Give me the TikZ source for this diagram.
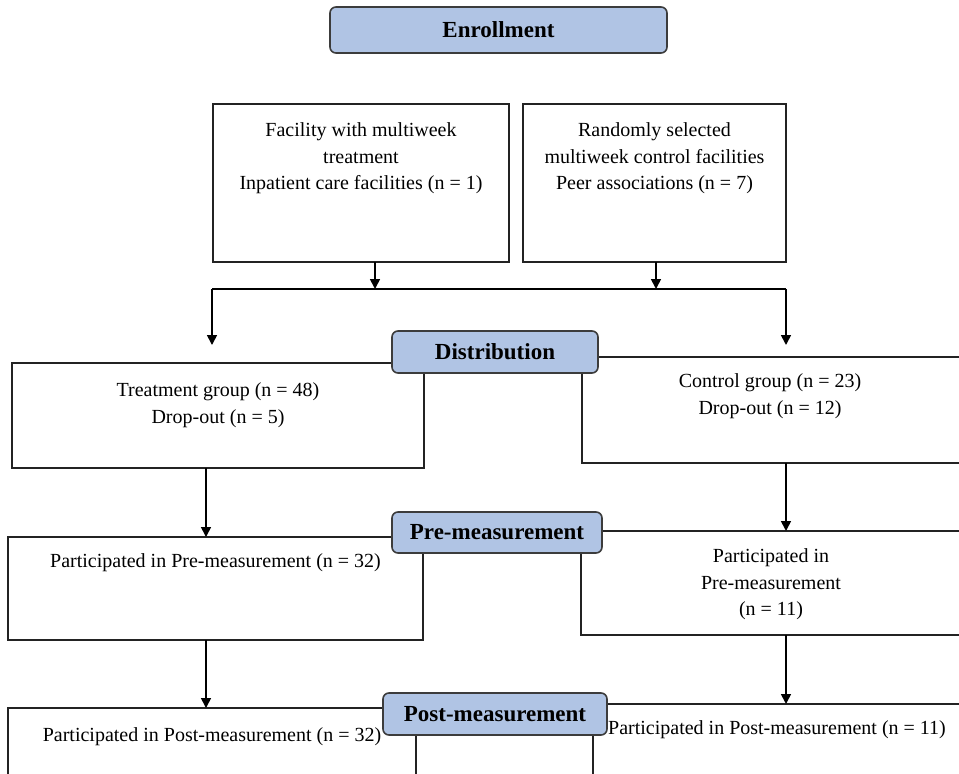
\documentclass[tikz,border=0pt]{standalone}
\usepackage{fontspec}
\setmainfont{Liberation Serif}
\usetikzlibrary{arrows.meta,calc}
\definecolor{headblue}{RGB}{176,196,228}
\definecolor{headedge}{RGB}{60,60,60}
\definecolor{boxedge}{RGB}{35,35,35}
\tikzset{
  wbox/.style={draw=boxedge, line width=1.6pt, fill=white, inner sep=0pt, outer sep=0pt, anchor=north west},
  hbox/.style={draw=headedge, line width=1.6pt, fill=headblue, rounded corners=6pt, inner sep=0pt, outer sep=0pt,
     font=\fontsize{23}{28}\selectfont\bfseries, anchor=north west},
  txt/.style={inner sep=0pt, align=center, anchor=north, font=\fontsize{20}{26.5}\selectfont},
  arr/.style={draw=black, line width=1.7pt, -{Triangle[length=10pt,width=10pt]}},
  ln/.style={draw=black, line width=1.7pt},
}
\begin{document}
\begin{tikzpicture}[x=1pt,y=-1pt]
\useasboundingbox (0,0) rectangle (959,774);
\clip (0,0) rectangle (959,774);
% coordinates for columns and junction
\coordinate (hl) at (212,289);
\coordinate (hr) at (786,289);
\coordinate (lc) at (206,0);
\coordinate (rc) at (786,0);
\coordinate (ax) at (375,0);
\coordinate (bx) at (656,0);
\coordinate (tk1) at (450,289);
\coordinate (tk2) at (549,289);

% top boxes
\node[wbox, minimum width=296pt, minimum height=158pt] (A) at (213,104) {};
\node[txt] (At) at ([yshift=-14pt]A.north) {\strut Facility with multiweek\\treatment\\Inpatient care facilities (n = 1)};
\node[wbox, minimum width=263pt, minimum height=158pt] (B) at (523,104) {};
\node[txt] (Bt) at ([yshift=-14pt]B.north) {\strut Randomly selected\\multiweek control facilities\\Peer associations (n = 7)};

% group boxes
\node[wbox, minimum width=412pt, minimum height=105pt] (C) at (12,363) {};
\node[txt] (Ct) at ([yshift=-15pt]C.north) {\strut Treatment group (n = 48)\\Drop-out (n = 5)};
\node[wbox, minimum width=390pt, minimum height=106pt] (D) at (582,357) {};
\node[txt] (Dt) at (770,369) {\strut Control group (n = 23)\\Drop-out (n = 12)};

% pre-measurement boxes
\node[wbox, minimum width=415pt, minimum height=103pt] (E) at (8,537) {};
\node[txt] (Et) at ([yshift=-12pt]E.north) {\strut Participated in Pre-measurement (n = 32)};
\node[wbox, minimum width=390pt, minimum height=104pt] (F) at (581,531) {};
\node[txt] (Ft) at (771,544) {\strut Participated in\\Pre-measurement\\(n = 11)};

% post-measurement boxes
\node[wbox, minimum width=408pt, minimum height=100pt] (G) at (8,708) {};
\node[txt] (Gt) at ([yshift=-15pt]G.north) {\strut Participated in Post-measurement (n = 32)};
\node[wbox, minimum width=380pt, minimum height=100pt] (H) at (593,704) {};
\node[txt] (Ht) at (777,716) {\strut Participated in Post-measurement (n = 11)};

% connectors
\draw[arr] (A.south -| ax) -- (hl -| ax);
\draw[arr] (B.south -| bx) -- (hl -| bx);
\draw[ln] (hl) -- (hr);
\draw[ln, line width=2.4pt] (tk1) -- (tk2);
\draw[arr] (hl) -- ([yshift=18pt]C.north -| hl);
\draw[arr] (hr) -- ([yshift=12pt]D.north -| hr);
\draw[arr] (C.south -| lc) -- (E.north -| lc);
\draw[arr] (D.south -| rc) -- (F.north -| rc);
\draw[arr] (E.south -| lc) -- (G.north -| lc);
\draw[arr] (F.south -| rc) -- (H.north -| rc);

% heading boxes
\node[hbox, minimum width=337pt, minimum height=46pt] (enr) at (330,7) {Enrollment};
\node[hbox, minimum width=206pt, minimum height=42pt] (dist) at (392,331) {Distribution};
\node[hbox, minimum width=210pt, minimum height=41pt] (pre) at (392,512) {Pre-measurement};
\node[hbox, minimum width=224pt, minimum height=42pt] (post) at (383,693) {Post-measurement};
\end{tikzpicture}
\end{document}
